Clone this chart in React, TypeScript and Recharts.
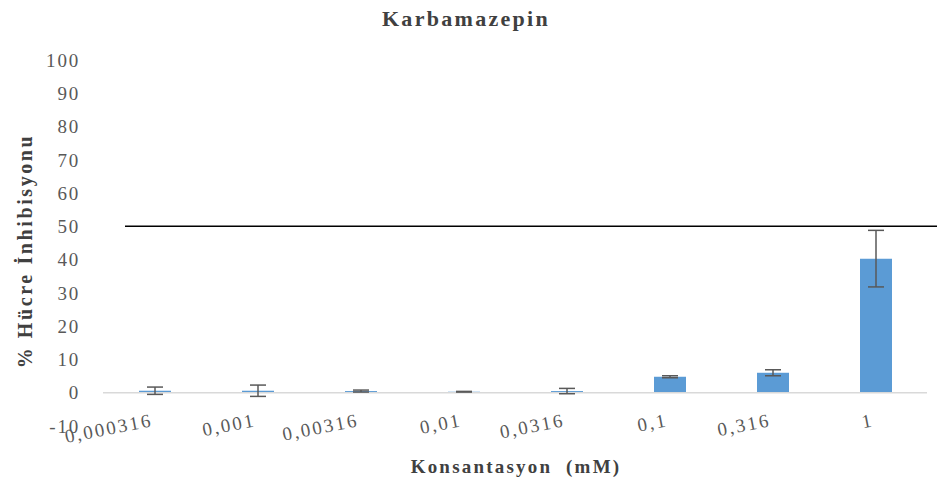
import { BarChart, Bar, XAxis, YAxis, ErrorBar, ReferenceLine } from "recharts";

const categories = ["0,000316", "0,001", "0,00316", "0,01", "0,0316", "0,1", "0,316", "1"];
const inhibition = [0.6, 0.6, 0.5, 0.3, 0.5, 4.8, 6.0, 40.3];
const errors = [1.1, 1.7, 0.3, 0.1, 0.8, 0.3, 0.9, 8.5];
const yTicks = [-10, 0, 10, 20, 30, 40, 50, 60, 70, 80, 90, 100];

const data = categories.map((c, i) => ({ conc: c, value: inhibition[i], err: errors[i] }));

const serif = "Liberation Serif";

// Excel-style slanted category labels, anchored at their right end
function SlantTick(props: any) {
  const { x, y, payload } = props;
  const tx = x - 1;
  const ty = y - 2;
  return (
    <text
      x={tx}
      y={ty}
      textAnchor="end"
      transform={`rotate(-11, ${tx}, ${ty})`}
      style={{ fontFamily: serif }}
      fontSize={19}
      letterSpacing={2.2}
      fill="#595959"
    >
      {payload.value}
    </text>
  );
}

export default function App() {
  return (
    <div style={{ position: "absolute", left: 0, top: 0, width: 937, height: 491, background: "#fff" }}>
      <div
        style={{
          position: "absolute",
          left: 466,
          top: 19,
          transform: "translate(-50%, -50%)",
          whiteSpace: "nowrap",
          fontFamily: serif,
          fontWeight: "bold",
          fontSize: 22,
          letterSpacing: 2.3,
          color: "#404040",
        }}
      >
        Karbamazepin
      </div>
      <div
        style={{
          position: "absolute",
          left: 25,
          top: 251,
          transform: "translate(-50%, -50%) rotate(-90deg)",
          whiteSpace: "nowrap",
          fontFamily: serif,
          fontWeight: "bold",
          fontSize: 20,
          letterSpacing: 2.6,
          color: "#404040",
        }}
      >
        % Hücre İnhibisyonu
      </div>
      <div
        style={{
          position: "absolute",
          left: 516,
          top: 467,
          transform: "translate(-50%, -50%)",
          whiteSpace: "pre",
          fontFamily: serif,
          fontWeight: "bold",
          fontSize: 19,
          letterSpacing: 2.2,
          color: "#404040",
        }}
      >
        Konsantasyon  (mM)
      </div>
      <BarChart
        width={937}
        height={491}
        data={data}
        margin={{ top: 60, right: 10, bottom: 0, left: 0 }}
        barSize={32}
      >
        <XAxis
          dataKey="conc"
          height={65}
          axisLine={false}
          tickLine={false}
          tickSize={0}
          interval={0}
          tick={<SlantTick />}
        />
        <YAxis
          width={103}
          domain={[-10, 100]}
          ticks={yTicks}
          interval={0}
          axisLine={false}
          tickLine={false}
          tickSize={0}
          tickMargin={23}
          tick={{ style: { fontFamily: serif }, fontSize: 19, letterSpacing: 1.8, fill: "#595959" }}
        />
        <ReferenceLine y={0} stroke="#d9d9d9" strokeWidth={1.5} />
        <ReferenceLine
          y={50}
          ifOverflow="visible"
          shape={(p: any) => (
            <line x1={p.x1 + 22} y1={p.y1} x2={p.x2 + 10} y2={p.y2} stroke="#000" strokeWidth={1.5} />
          )}
        />
        <Bar dataKey="value" fill="#5b9bd5" isAnimationActive={false}>
          <ErrorBar dataKey="err" width={8} stroke="#595959" strokeWidth={1.5} />
        </Bar>
      </BarChart>
    </div>
  );
}
